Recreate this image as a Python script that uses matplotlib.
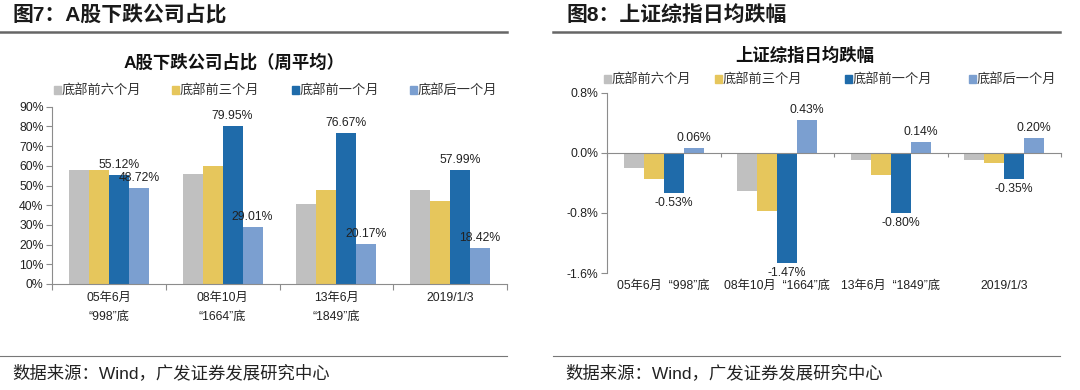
import matplotlib.pyplot as plt
from matplotlib.lines import Line2D
from matplotlib.patches import Rectangle
from matplotlib.ticker import FuncFormatter

plt.rcParams['font.family'] = ['Liberation Sans', 'Noto Sans CJK SC', 'DejaVu Sans']

CJK = ['Noto Sans CJK SC', 'DejaVu Sans']
MIX = ['Liberation Sans', 'Noto Sans CJK SC', 'DejaVu Sans']

# series names and colours
series = ['底部前六个月', '底部前三个月', '底部前一个月', '底部后一个月']
colors = ['#C0C0C0', '#E6C65C', '#1F6BAA', '#7B9FD0']

# figure 7: share of falling A-share companies (weekly average, %)
cats7 = ['05年6月\n“998”底', '08年10月\n“1664”底', '13年6月\n“1849”底', '2019/1/3\n ']
six7 = [57.9, 55.8, 40.6, 47.7]
three7 = [57.8, 59.9, 47.7, 42.1]
one7 = [55.12, 79.95, 76.67, 57.99]
after7 = [48.72, 29.01, 20.17, 18.42]

# figure 8: SSE composite average daily change (%)
cats8 = ['05年6月  “998”底', '08年10月  “1664”底', '13年6月  “1849”底', '2019/1/3']
six8 = [-0.20, -0.51, -0.10, -0.09]
three8 = [-0.35, -0.77, -0.29, -0.13]
one8 = [-0.53, -1.47, -0.80, -0.35]
after8 = [0.06, 0.43, 0.14, 0.20]

fig = plt.figure(figsize=(10.8, 3.9), dpi=100)
W, H = 1080, 390


def fx(px):
    return px / W


def fy(py):
    return 1 - py / H


bw = 0.176
grey = '#8C8C8C'

# ---------- headers, rules and sources ----------
fig.text(fx(12), fy(15), '图7：A股下跌公司占比', fontsize=15, fontweight='bold',
         family=MIX, va='center', ha='left', color='#1a1a1a')
fig.text(fx(566), fy(15), '图8：上证综指日均跌幅', fontsize=15, fontweight='bold',
         family=MIX, va='center', ha='left', color='#1a1a1a')
for x0, x1 in [(0, 507), (553, 1060)]:
    fig.add_artist(Line2D([fx(x0), fx(x1)], [fy(32), fy(32)], color='#666666', lw=1.8))
    fig.add_artist(Line2D([fx(x0), fx(x1)], [fy(356), fy(356)], color='#777777', lw=0.8))
fig.text(fx(12), fy(373), '数据来源：Wind，广发证券发展研究中心', fontsize=12.5,
         family=MIX, va='center', ha='left', color='#222222')
fig.text(fx(565), fy(373), '数据来源：Wind，广发证券发展研究中心', fontsize=12.5,
         family=MIX, va='center', ha='left', color='#222222')

# chart titles
fig.text(fx(234), fy(62), 'A股下跌公司占比（周平均）', fontsize=12.5, fontweight='bold',
         family=MIX, va='center', ha='center', color='#111111')
fig.text(fx(805), fy(55), '上证综指日均跌幅', fontsize=12.5, fontweight='bold',
         family=MIX, va='center', ha='center', color='#111111')

# legends drawn as small square patch + text
for xs, y in [([54, 172, 292, 410], 90), ([604, 715, 845, 969], 79)]:
    for x, name, c in zip(xs, series, colors):
        fig.add_artist(Rectangle((fx(x), fy(y + 3.5)), fx(7), 7 / H, color=c,
                                 transform=fig.transFigure))
        fig.text(fx(x + 8), fy(y), name, fontsize=9.5, color='#333333', family=CJK,
                 va='center', ha='left')

# ---------- figure 7 ----------
ax1 = fig.add_axes([fx(52), fy(284), fx(507) - fx(52), fy(106.7) - fy(284)])
vals7 = [six7, three7, one7, after7]
for j, (v, c) in enumerate(zip(vals7, colors)):
    xs = [i + (j - 1.5) * bw for i in range(len(cats7))]
    ax1.bar(xs, v, width=bw, color=c, zorder=2)
    if j >= 2:
        for x, val in zip(xs, v):
            ax1.annotate(f'{val:.2f}%', (x, val), xytext=(0, 3), textcoords='offset points',
                         ha='center', va='bottom', fontsize=8.8, color='#222222', zorder=3)
ax1.set_xlim(-0.5, 3.5)
ax1.set_ylim(0, 90)
ax1.set_yticks(range(0, 91, 10))
ax1.yaxis.set_major_formatter(FuncFormatter(lambda v, p: f'{v:.0f}%'))
ax1.set_xticks([-0.5, 0.5, 1.5, 2.5, 3.5])
ax1.set_xticklabels([])
ax1.set_xticks(range(4), minor=True)
ax1.set_xticklabels(cats7, minor=True, family=MIX, fontsize=8.8, color='#222222',
                    linespacing=1.75)
ax1.tick_params(axis='x', which='minor', length=0, pad=6)
ax1.tick_params(axis='x', which='major', length=4, color=grey)
ax1.tick_params(axis='y', length=4, color=grey, labelsize=8.8, labelcolor='#222222', pad=2)
for s in ['top', 'right']:
    ax1.spines[s].set_visible(False)
for s in ['left', 'bottom']:
    ax1.spines[s].set_color(grey)
    ax1.spines[s].set_linewidth(0.8)

# ---------- figure 8 ----------
ax2 = fig.add_axes([fx(607), fy(273), fx(1061) - fx(607), fy(92.7) - fy(273)])
vals8 = [six8, three8, one8, after8]
for j, (v, c) in enumerate(zip(vals8, colors)):
    xs = [i + (j - 1.5) * bw for i in range(len(cats8))]
    ax2.bar(xs, v, width=bw, color=c, zorder=2)
    if j >= 2:
        for x, val in zip(xs, v):
            off = 3 if val >= 0 else -3
            ax2.annotate(f'{val:.2f}%', (x, val), xytext=(0, off), textcoords='offset points',
                         ha='center', va='bottom' if val >= 0 else 'top',
                         fontsize=8.8, color='#222222', zorder=3)
ax2.set_xlim(-0.5, 3.5)
ax2.set_ylim(-1.6, 0.8)
ax2.set_yticks([-1.6, -0.8, 0.0, 0.8])
ax2.yaxis.set_major_formatter(FuncFormatter(lambda v, p: f'{v:.1f}%'))
ax2.spines['bottom'].set_position(('data', 0))
ax2.set_xticks([-0.5, 0.5, 1.5, 2.5, 3.5])
ax2.set_xticklabels([])
ax2.tick_params(axis='x', length=3, color=grey)
ax2.tick_params(axis='y', length=4, color=grey, labelsize=8.8, labelcolor='#222222', pad=2)
for i, lab in enumerate(cats8):
    ax2.text(i, -0.04, lab, transform=ax2.get_xaxis_transform(), ha='center', va='top',
             fontsize=8.8, family=MIX, color='#222222')
for s in ['top', 'right']:
    ax2.spines[s].set_visible(False)
for s in ['left', 'bottom']:
    ax2.spines[s].set_color(grey)
    ax2.spines[s].set_linewidth(0.8)

fig.savefig('out.png', dpi=100)
